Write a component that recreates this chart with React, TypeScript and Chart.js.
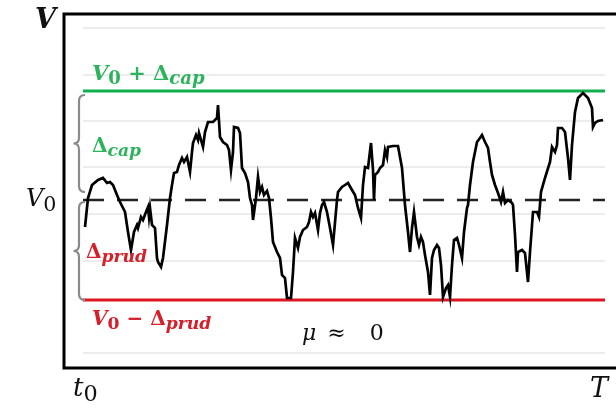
import { useEffect, useRef } from "react";
import { Chart, registerables } from "chart.js";

Chart.register(...registerables);

// time axis (t0 .. T) and the value path V(t)
const timeSteps = [
  2, 5, 9, 15, 20, 24, 27, 30, 34, 37, 42, 45, 48, 51, 54, 55, 58, 60, 63, 65, 66, 67, 69, 72, 74, 75, 78, 80, 84, 87,
  89, 91, 94, 96, 99, 101, 104, 107, 109, 110, 113, 115, 116, 118, 120, 122, 125, 130, 134, 135, 137, 140, 144, 146,
  148, 150, 151, 155, 157, 159, 162, 165, 167, 169, 170, 173, 175, 177, 179, 181, 184, 186, 188, 190, 194, 197, 199,
  202, 204, 208, 210, 212, 215, 217, 220, 224, 226, 228, 230, 232, 235, 237, 239, 241, 244, 247, 250, 254, 255, 259,
  262, 265, 269, 272, 275, 278, 280, 282, 285, 288, 290, 291, 292, 295, 297, 300, 302, 304, 305, 310, 315, 319, 322,
  325, 327, 329, 331, 334, 336, 338, 340, 342, 345, 347, 349, 351, 354, 356, 358, 360, 363, 365, 367, 369, 371, 374,
  376, 379, 381, 384, 385, 387, 390, 394, 397, 399, 402, 405, 407, 409, 412, 415, 418, 420, 422, 425, 429, 430, 432,
  434, 435, 439, 442, 445, 447, 450, 454, 456, 458, 462, 467, 469, 472, 474, 475, 479, 482, 485, 487, 489, 492, 495,
  500, 505, 509, 510, 512, 515, 520,
];
const walkValues = [
  141, 170, 183, 188, 190, 185, 186, 183, 173, 166, 156, 136, 118, 136, 143, 140, 151, 148, 156, 161, 151, 160, 143,
  140, 110, 106, 101, 110, 143, 170, 183, 195, 196, 203, 210, 206, 211, 196, 216, 225, 233, 228, 235, 228, 221, 236,
  246, 246, 250, 263, 231, 226, 223, 218, 198, 216, 241, 240, 235, 200, 195, 186, 170, 163, 148, 170, 191, 176, 181,
  173, 177, 170, 150, 126, 116, 110, 93, 90, 70, 70, 96, 130, 120, 131, 138, 141, 146, 156, 151, 155, 138, 155, 163,
  166, 156, 140, 123, 168, 176, 181, 183, 185, 178, 173, 160, 150, 183, 201, 200, 225, 198, 168, 193, 196, 200, 203,
  218, 211, 221, 222, 222, 200, 163, 136, 116, 140, 156, 131, 123, 131, 126, 113, 96, 73, 110, 118, 123, 120, 103, 71,
  80, 83, 71, 103, 128, 130, 123, 110, 136, 160, 163, 183, 206, 226, 230, 233, 226, 220, 206, 193, 183, 175, 166, 176,
  165, 168, 165, 163, 133, 96, 116, 118, 115, 86, 116, 156, 156, 151, 176, 190, 206, 221, 216, 223, 240, 240, 236,
  210, 188, 223, 256, 270, 275, 270, 260, 241, 245, 247, 248,
];

const tStart = 0;
const tEnd = 522;
const vMin = 0;
const vMax = 354;
const v0Level = 168;
const capLevel = 277; // V0 + Δcap
const prudLevel = 68; // V0 - Δprud
const gridLevels = [340, 293, 247, 201, 154, 107, 15];
const muLabelTime = 219;

const GREEN_LINE = "#10b04e";
const GREEN_TEXT = "#2db35c";
const RED_LINE = "#dd1620";
const RED_TEXT = "#d4202a";
const FONT = '"DejaVu Serif"';

type Seg = { t: string; sub?: boolean; it?: boolean; pre?: number };

function drawRich(
  ctx: CanvasRenderingContext2D,
  segs: Seg[],
  x: number,
  y: number,
  size: number,
  color: string,
  bold: boolean
) {
  let cx = x;
  ctx.fillStyle = color;
  ctx.textBaseline = "alphabetic";
  ctx.textAlign = "left";
  for (const s of segs) {
    const fs = s.sub ? size * 0.86 : size;
    ctx.font = `${s.it ? "italic " : ""}${bold ? "bold " : ""}${fs}px ${FONT}`;
    const dy = s.sub ? size * 0.2 : 0;
    cx += s.pre || 0;
    ctx.fillText(s.t, cx, y + dy);
    cx += ctx.measureText(s.t).width;
  }
}

function drawBrace(ctx: CanvasRenderingContext2D, xs: number, xp: number, xr: number, y1: number, y2: number) {
  const ym = (y1 + y2) / 2;
  const r = 6;
  ctx.beginPath();
  ctx.moveTo(xr, y1);
  ctx.quadraticCurveTo(xs, y1, xs, y1 + r);
  ctx.lineTo(xs, ym - r);
  ctx.quadraticCurveTo(xs, ym, xp, ym);
  ctx.quadraticCurveTo(xs, ym, xs, ym + r);
  ctx.lineTo(xs, y2 - r);
  ctx.quadraticCurveTo(xs, y2, xr, y2);
  ctx.stroke();
}

const overlayPlugin = {
  id: "overlay",
  afterDraw(chart: any) {
    const { ctx, chartArea, scales } = chart;
    const y = scales.y;
    const x = scales.x;
    const { left, right, top, bottom } = chartArea;
    const greenPx = y.getPixelForValue(capLevel);
    const v0Px = y.getPixelForValue(v0Level);
    const redPx = y.getPixelForValue(prudLevel);
    ctx.save();

    // frame (left, top, bottom)
    ctx.strokeStyle = "#000";
    ctx.lineWidth = 3;
    ctx.lineCap = "butt";
    const fx = left - 19;
    ctx.beginPath();
    ctx.moveTo(chart.width, top);
    ctx.lineTo(fx, top);
    ctx.lineTo(fx, bottom);
    ctx.lineTo(chart.width, bottom);
    ctx.stroke();

    // braces
    ctx.strokeStyle = "#8a8a8a";
    ctx.lineWidth = 2.2;
    drawBrace(ctx, left - 4, left - 9.5, left + 2, greenPx + 4, v0Px - 8);
    drawBrace(ctx, left - 4, left - 9.5, left + 2, v0Px + 2, redPx);

    // axis labels
    drawRich(ctx, [{ t: "V", it: true }], left - 48, top + 14, 27, "#111", true);
    drawRich(ctx, [{ t: "V", it: true }, { t: "0", sub: true }], left - 57, v0Px + 6, 24, "#111", false);
    drawRich(ctx, [{ t: "t", it: true }, { t: "0", sub: true }], left - 10, bottom + 28, 26, "#111", false);
    drawRich(ctx, [{ t: "T", it: true }], right - 15, bottom + 29, 27, "#111", false);

    // annotations
    drawRich(
      ctx,
      [{ t: "V", it: true }, { t: "0", sub: true }, { t: " + " }, { t: "Δ" }, { t: "cap", sub: true, it: true }],
      left + 9,
      greenPx - 11,
      21,
      GREEN_TEXT,
      true
    );
    drawRich(ctx, [{ t: "Δ" }, { t: "cap", sub: true, it: true }], left + 9, (greenPx + v0Px) / 2 + 6.5, 20, GREEN_TEXT, true);
    drawRich(ctx, [{ t: "Δ" }, { t: "prud", sub: true, it: true }], left + 3, (v0Px + redPx) / 2 + 8, 20, RED_TEXT, true);
    drawRich(
      ctx,
      [{ t: "V", it: true }, { t: "0", sub: true }, { t: " − " }, { t: "Δ" }, { t: "prud", sub: true, it: true }],
      left + 9,
      redPx + 25,
      20,
      RED_TEXT,
      true
    );
    drawRich(
      ctx,
      [{ t: "μ", it: true }, { t: "≈", pre: 11 }, { t: "0", pre: 24 }],
      x.getPixelForValue(muLabelTime),
      redPx + 40,
      22,
      "#111",
      false
    );
    ctx.restore();
  },
};

export default function App() {
  const ref = useRef<HTMLCanvasElement | null>(null);
  useEffect(() => {
    if (!ref.current) return;
    const walk = timeSteps.map((t, i) => ({ x: t, y: walkValues[i] }));
    const flat = (v: number) => [
      { x: tStart, y: v },
      { x: tEnd, y: v },
    ];
    const chart = new Chart(ref.current, {
      type: "line",
      data: {
        datasets: [
          {
            label: "V(t)",
            data: walk,
            borderColor: "#000",
            borderWidth: 2.7,
            pointRadius: 0,
            tension: 0,
          },
          {
            label: "V0 + Δcap",
            data: flat(capLevel),
            borderColor: GREEN_LINE,
            borderWidth: 3,
            pointRadius: 0,
          },
          {
            label: "V0 - Δprud",
            data: flat(prudLevel),
            borderColor: RED_LINE,
            borderWidth: 3,
            pointRadius: 0,
          },
          {
            label: "V0",
            data: flat(v0Level),
            borderColor: "#222",
            borderWidth: 2.5,
            borderDash: [21, 13],
            pointRadius: 0,
          },
        ],
      },
      options: {
        responsive: false,
        animation: false,
        layout: { padding: { left: 83, right: 11, top: 14, bottom: 41 } },
        plugins: { legend: { display: false }, tooltip: { enabled: false } },
        scales: {
          x: { type: "linear", min: tStart, max: tEnd, display: false },
          y: {
            type: "linear",
            min: vMin,
            max: vMax,
            afterBuildTicks: (scale: any) => {
              scale.ticks = gridLevels.map((v) => ({ value: v }));
            },
            ticks: { display: false },
            border: { display: false },
            grid: { color: "#ececec", lineWidth: 2, drawTicks: false },
          },
        },
      },
      plugins: [overlayPlugin],
    });
    return () => chart.destroy();
  }, []);
  return (
    <div style={{ position: "fixed", left: 0, top: 0, width: 616, height: 409, background: "#fff" }}>
      <canvas ref={ref} width={616} height={409} />
    </div>
  );
}
